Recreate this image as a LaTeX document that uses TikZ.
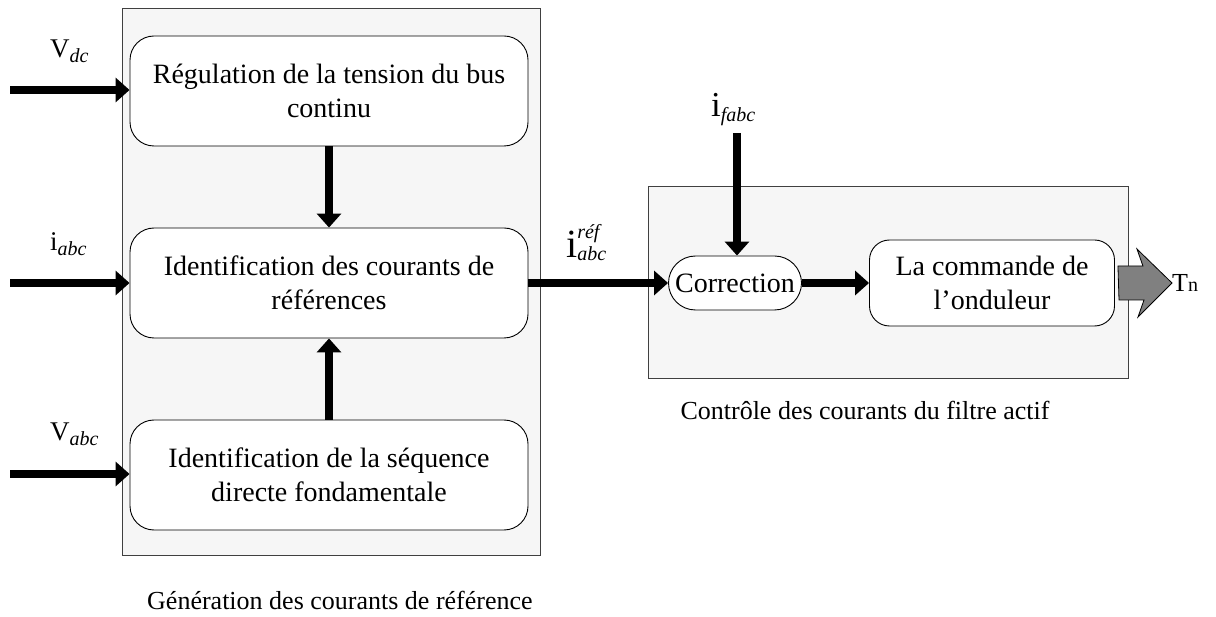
\documentclass[tikz,border=0pt]{standalone}
\usepackage{fontspec}
\setmainfont{Liberation Serif}
\usetikzlibrary{arrows.meta}

\definecolor{panelgray}{HTML}{F6F6F6}
\definecolor{tipgray}{HTML}{808080}

% signal label: main letter, italic subscript
\newcommand{\lbl}[3][27]{{\fontsize{#1}{#1}\selectfont #2}\raisebox{-5pt}{\fontsize{20}{20}\selectfont\itshape #3}}

\tikzset{
  panel/.style={shape=rectangle,draw=black!75,fill=panelgray,line width=0.8pt},
  block/.style={shape=rectangle,rounded corners=24pt,draw=black,fill=white,line width=0.9pt,
    align=center,font=\fontsize{28}{34}\selectfont},
  flow/.style={line width=8pt,-{Triangle[length=14pt,width=24pt]}},
  caption/.style={font=\fontsize{26}{30}\selectfont},
  sig/.style={anchor=base west,inner sep=0pt}
}

\begin{document}
\begin{tikzpicture}[x=1pt,y=-1pt]
    \useasboundingbox (0,0) rectangle (1216,617);
    % panels
    \node[panel, minimum width=418pt, minimum height=547pt] (gen) at (331,281.5) {};
    \node[panel, minimum width=480pt, minimum height=192pt] (ctrl) at (888,282) {};
    % left blocks
    \node[block, minimum width=398pt, minimum height=110pt] (reg) at (329,91) {R\'egulation de la tension du bus\\continu};
    \node[block, minimum width=398pt, minimum height=110pt] (idc) at (329,283) {Identification des courants de\\r\'ef\'erences};
    \node[block, minimum width=398pt, minimum height=110pt] (seq) at (329,475) {Identification de la s\'equence\\directe fondamentale};
    % right blocks
    \node[block, rounded corners=27pt, minimum width=133pt, minimum height=54pt, inner sep=2pt] (cor) at (735,283) {Correction};
    \node[block, rounded corners=20pt, minimum width=245pt, minimum height=86pt] (com) at (992,283) {La commande de\\l'onduleur};
    % inputs
    \coordinate (vdcin) at (10,90);
    \coordinate (iabcin) at (10,283);
    \coordinate (vabcin) at (10,474);
    \coordinate (ifin) at (737,133);
    \node[sig] (vdc) at (50,58) {\lbl{V}{dc}};
    \node[sig] (iabc) at (50,251) {\lbl{i}{abc}};
    \node[sig] (vabc) at (50,441) {\lbl{V}{abc}};
    \node[sig] (ifabc) at (711,117) {\lbl[35]{i}{fabc}};
    \node[sig] (iref) at (566,258)
      {{\fontsize{40}{40}\selectfont i}\rlap{\raisebox{19pt}{\fontsize{20}{20}\selectfont\itshape r\'ef}}\raisebox{-3pt}{\fontsize{20}{20}\selectfont\itshape abc}};
    \node[anchor=west, inner sep=0pt] (tn) at (1172,283) {\fontsize{26}{28}\selectfont T\fontsize{20}{22}\selectfont n};
    % captions
    \node[caption, anchor=base west, inner sep=0pt] (capgen) at (147,609) {G\'en\'eration des courants de r\'ef\'erence};
    \node[caption] (capctrl) at (865,410) {Contr\^ole des courants du filtre actif};
    % connectors
    \draw[flow] (vdcin) -- (reg.west |- vdcin);
    \draw[flow] (iabcin) -- (idc.west |- iabcin);
    \draw[flow] (vabcin) -- (seq.west |- vabcin);
    \draw[flow] (reg.south) -- (idc.north);
    \draw[flow] (seq.north) -- (idc.south);
    \draw[flow] (idc.east) -- (cor.west);
    \draw[flow] (ifin) -- (cor.north -| ifin);
    \draw[flow] (cor.east) -- (com.west);
    \draw[fill=tipgray,line width=0.8pt] (com.east) ++(3,-17) -- ++(25,0) -- ++(-6,-17)
      -- (tn.west) -- ++(-34,34) -- ++(6,-17) -- ++(-25,0) -- cycle;
\end{tikzpicture}
\end{document}
